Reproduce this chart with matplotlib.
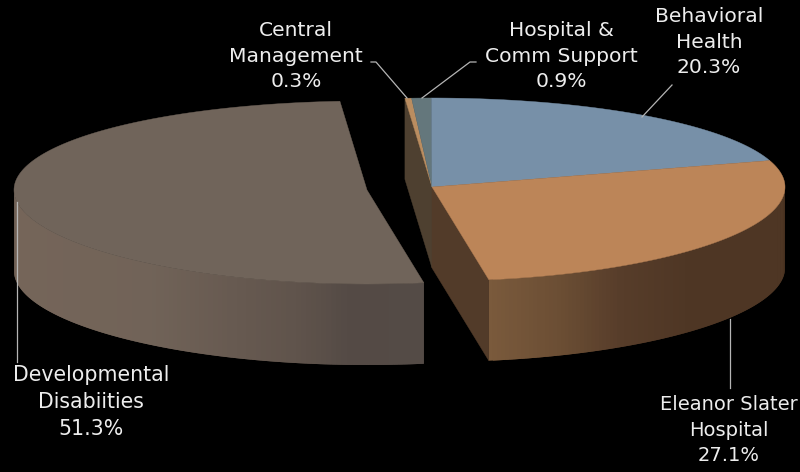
#!/usr/bin/env python3
"""3D style budget pie, drawn from the slice shares on a pixel sized axes."""

import numpy as np
import matplotlib
matplotlib.use('Agg')
import matplotlib.pyplot as plt
from matplotlib.colors import to_rgb

# Data
labels = ['Central\nManagement\n0.3%', 'Hospital &\nComm Support\n0.9%',
          'Behavioral\nHealth\n20.3%', 'Eleanor Slater\nHospital\n27.1%',
          'Developmental\nDisabiities\n51.3%']
shares = [0.3, 0.9, 20.3, 27.1, 51.3]
top_colors = ['#BA8D60', '#64777C', '#7790A8', '#BC8558', '#70645A']

# Pie geometry in pixels
START = -4.4
RX = 353
RY = 91.5
PERSP = 2.5
DEPTH = 81
CENTER = (432, 187)
LEFT_CENTER = (367, 190)


def rim(center, angle):
    # screen position of the pie rim, angle clockwise from 12 o'clock
    a = np.radians(angle)
    v = np.cos(a)
    return center[0] + RX * np.sin(a), center[1] - RY * v + PERSP * v ** 2


def blend(stops, t):
    pos = [s[0] for s in stops]
    rgb = np.array([to_rgb(s[1]) for s in stops])
    return tuple(np.interp(t, pos, rgb[:, i]) for i in range(3))


def outer_wall(ax, center, a0, a1, stops):
    # side of the pie in overlapping strips, so no seams show between them
    angles = np.linspace(a0, a1, 120)
    x, y = rim(center, angles)
    for i in range(len(angles) - 1):
        j = min(i + 2, len(angles) - 1)
        t = (x[i] + x[i + 1]) / 2
        ax.fill([x[i], x[j], x[j], x[i]],
                [y[i], y[j], y[j] + DEPTH, y[i] + DEPTH],
                color=blend(stops, t), lw=0, zorder=2)


def top_face(ax, center, a0, a1, color):
    angles = np.linspace(a0, a1, 200)
    x, y = rim(center, angles)
    ax.fill(np.r_[center[0], x], np.r_[center[1], y], color=color, lw=0.3, zorder=4)


# Slice boundaries
edges = START + 360 * np.cumsum(np.r_[0, shares]) / np.sum(shares)

fig = plt.figure(figsize=(8, 4.72), dpi=100, facecolor='black')
ax = fig.add_axes([0, 0, 1, 1])
ax.set_xlim(0, 800)
ax.set_ylim(472, 0)
ax.axis('off')

# Walls of the right hand part
bx, by = rim(CENTER, edges[0])
ax.fill([bx, CENTER[0], CENTER[0], bx],
        [by, CENTER[1], CENTER[1] + DEPTH, by + DEPTH],
        color='#4E4030', lw=0.3, zorder=1)
ex, ey = rim(CENTER, edges[4])
ax.fill([CENTER[0], ex, ex, CENTER[0]],
        [CENTER[1], ey, ey + DEPTH, CENTER[1] + DEPTH],
        color='#523B29', lw=0.3, zorder=1)
outer_wall(ax, CENTER, edges[4], 90,
           [(490, '#7A5A3C'), (560, '#6B4E34'), (620, '#573D2A'), (690, '#4E3624'), (785, '#4E3624')])

# Wall of the pulled out slice
outer_wall(ax, LEFT_CENTER, 270, edges[4],
           [(14, '#756559'), (150, '#716358'), (300, '#5F534B'), (350, '#544A45'), (424, '#544B46')])

# Top faces
for i in range(4):
    top_face(ax, CENTER, edges[i], edges[i + 1], top_colors[i])
top_face(ax, LEFT_CENTER, edges[4], edges[5], top_colors[4])

# Leader lines
leaders = [([371, 376, 407], [62, 62, 98]),
           ([476, 470, 422], [62, 62, 98]),
           ([672, 642], [85, 117]),
           ([730, 730], [319, 388]),
           ([17, 17], [202, 362])]
for lx, ly in leaders:
    ax.plot(lx, ly, color='#B5B5B5', lw=0.9, zorder=5)

# Labels
label_pos = [(296, 56), (561, 56), (709, 42), (729, 430), (91, 402)]
label_size = [14.6, 14.6, 14.6, 14.0, 14.8]
for text, (tx, ty), size in zip(labels, label_pos, label_size):
    ax.text(tx, ty, text, color='#EDEDED', fontsize=size, family='DejaVu Sans',
            ha='center', va='center', linespacing=1.42, zorder=6)

fig.savefig('out.png', dpi=100, facecolor='black')
